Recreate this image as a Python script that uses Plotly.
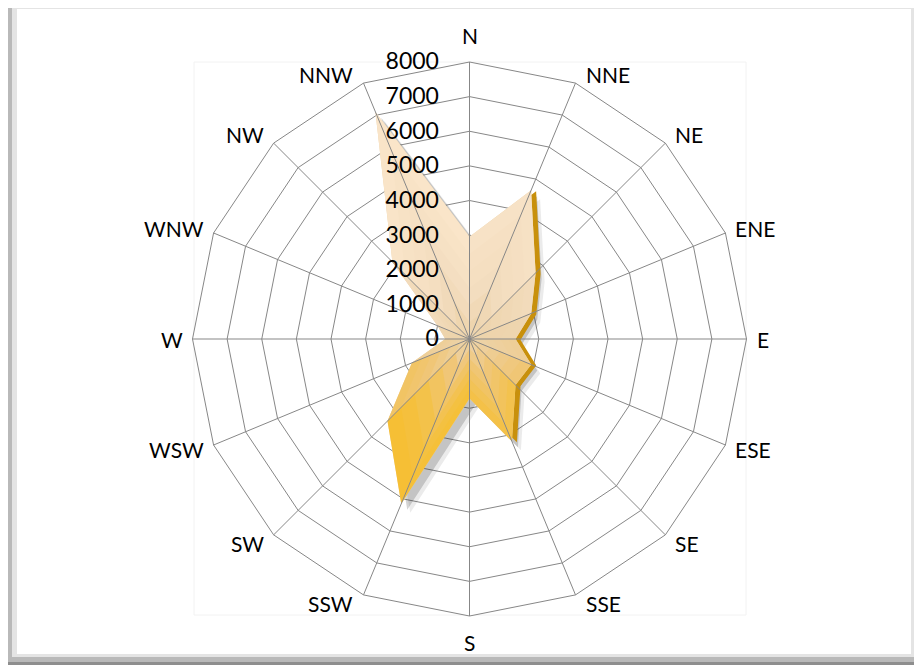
import numpy as np
import plotly.graph_objects as go

# wind directions and counts
directions = ['N', 'NNE', 'NE', 'ENE', 'E', 'ESE', 'SE', 'SSE',
              'S', 'SSW', 'SW', 'WSW', 'W', 'WNW', 'NW', 'NNW']
counts = [2950, 4650, 2700, 1930, 1330, 1930, 1880, 3200,
          1720, 5150, 3350, 1800, 700, 1000, 3150, 7100]
radial_ticks = [0, 1000, 2000, 3000, 4000, 5000, 6000, 7000, 8000]

W, H = 922, 668
OFF = 8  # page body margin shifts the figure
CX, CY, R = 469.5 - OFF, 339 - OFF, 277
GRID = '#878787'
FONT = 'Lato'


def dom(dx=0, dy=0):
    return dict(x=[(CX - R + dx) / W, (CX + R + dx) / W],
                y=[1 - (CY + R + dy) / H, 1 - (CY - R + dy) / H])


def hex_mix(stops, t):
    t = min(max(t, 0), 1)
    for (t0, c0), (t1, c1) in zip(stops[:-1], stops[1:]):
        if t <= t1:
            u = (t - t0) / (t1 - t0) if t1 > t0 else 0
            a = [int(c0[i:i + 2], 16) for i in (1, 3, 5)]
            b = [int(c1[i:i + 2], 16) for i in (1, 3, 5)]
            return 'rgb(%d,%d,%d)' % tuple(round(x + (y - x) * u) for x, y in zip(a, b))
    return stops[-1][1]


# vertical gradient like the Excel fill: golden at the bottom, cream on top
grad = [(0.0, '#F8BD1F'), (0.22, '#F4C143'), (0.34, '#F0C676'),
        (0.42, '#EDD3AA'), (0.55, '#F3DDBF'), (1.0, '#FFEBD1')]

ang = np.deg2rad(np.arange(len(directions)) * 360 / len(directions))
vals = np.array(counts, dtype=float)
ys = vals * np.cos(ang)
ymin, ymax = ys.min(), ys.max()

fig = go.Figure()

common_ang = dict(type='category', categoryorder='array', categoryarray=directions,
                  rotation=90, direction='clockwise')
closed_dirs = directions + directions[:1]
closed_vals = counts + counts[:1]
half = directions.index('S') + 1


def base_polar(**kw):
    p = dict(bgcolor='rgba(0,0,0,0)', gridshape='linear',
             radialaxis=dict(range=[0, 8000], tickvals=radial_ticks, showgrid=False,
                             showline=False, showticklabels=False, ticks=''),
             angularaxis=dict(common_ang, showgrid=False, showline=False,
                              showticklabels=False, ticks=''))
    for k, v in kw.items():
        if isinstance(v, dict) and k in p:
            p[k].update(v)
        else:
            p[k] = v
    return p


def helper(sp):
    return go.Scatterpolar(r=closed_vals, theta=closed_dirs, mode='lines',
                           line=dict(width=0, color='rgba(0,0,0,0)'),
                           hoverinfo='skip', showlegend=False, subplot=sp)


# 1: rings underneath everything
fig.add_trace(helper('polar'))

# 2-4: soft shadow copies and the golden bevel on the right-hand side
for sp, col in [('polar2', 'rgba(60,60,60,0.10)'), ('polar3', 'rgba(40,40,40,0.20)')]:
    fig.add_trace(go.Scatterpolar(r=closed_vals, theta=closed_dirs, mode='lines',
                                  fill='toself', fillcolor=col, line=dict(width=0),
                                  hoverinfo='skip', showlegend=False, subplot=sp))
fig.add_trace(helper('polar4'))
fig.add_trace(go.Scatterpolar(r=[0] + counts[:half] + [0],
                              theta=['N'] + directions[:half] + ['S'], mode='lines',
                              fill='toself', fillcolor='#C8900C', line=dict(width=0),
                              hoverinfo='skip', showlegend=False, subplot='polar4'))

# 5: the filled series, shaded per sector to mimic the vertical gradient
fig.add_trace(go.Scatterpolar(r=closed_vals, theta=closed_dirs, mode='lines',
                              fill='toself', fillcolor=hex_mix(grad, 0.42),
                              line=dict(width=0), name='Frequency',
                              showlegend=False, subplot='polar5'))
K = 6
n = len(directions)
for i in range(n):
    j = (i + 1) % n
    ymid = (ys[i] + ys[j]) / 2
    for k in range(K, 0, -1):
        f = k / K
        t = ((f - 0.5 / K) * ymid - ymin) / (ymax - ymin)
        fig.add_trace(go.Scatterpolar(
            r=[0, f * counts[i], f * counts[j], 0],
            theta=[directions[i], directions[i], directions[j], directions[j]],
            mode='lines', fill='toself', fillcolor=hex_mix(grad, t),
            line=dict(width=0), hoverinfo='skip', showlegend=False, subplot='polar5'))

# 6: spokes and radial labels on top
fig.add_trace(helper('polar6'))

label_font = dict(family=FONT, size=21, color='black')
layout = dict(
    polar=base_polar(domain=dom(), bgcolor='white',
                     radialaxis=dict(showgrid=True, gridcolor=GRID, gridwidth=1),
                     angularaxis=dict(showline=True, linecolor=GRID, linewidth=1)),
    polar2=base_polar(domain=dom(9, 9)),
    polar3=base_polar(domain=dom(6, 6)),
    polar4=base_polar(domain=dom(5, 1)),
    polar5=base_polar(domain=dom()),
    polar6=base_polar(domain=dom(),
                      radialaxis=dict(showticklabels=True, angle=90, tickangle=90,
                                      side='counterclockwise',
                                      tickfont=dict(label_font, size=23),
                                      ticks='outside', ticklen=22,
                                      tickcolor='rgba(0,0,0,0)'),
                      angularaxis=dict(showgrid=True, gridcolor=GRID, gridwidth=1)),
)
fig.update_layout(**layout)

# direction labels placed next to the outer ring vertices, Excel style
annotations = []
for d, a in zip(directions, ang):
    s, c = np.sin(a), np.cos(a)
    vx, vy = CX + R * s, CY - R * c
    if abs(s) < 0.1:
        x, y, xa = vx, vy - 26.5 * np.sign(c), 'center'
    else:
        x = vx + 8 * np.sign(s)
        y = vy - 9 * np.clip(c * 1.4, -1, 1)
        xa = 'left' if s > 0 else 'right'
    annotations.append(dict(text=d, x=x / W, y=1 - y / H, xref='paper', yref='paper',
                            xanchor=xa, yanchor='middle', showarrow=False,
                            font=label_font))


def px_rect(x0, y0, x1, y1, col):
    return dict(type='rect', xref='paper', yref='paper', layer='below',
                x0=(x0 - OFF) / W, x1=(x1 - OFF) / W,
                y0=1 - (y1 - OFF) / H, y1=1 - (y0 - OFF) / H,
                fillcolor=col, line=dict(width=0))


# beveled frame around the chart area
frame = [px_rect(8, 4, 921, 665, '#8E8E8E'),
         px_rect(8, 5, 918, 662, '#B9B9B9'),
         px_rect(12, 7, 914, 657, '#E4E4E4'),
         px_rect(17, 9, 911, 654, 'white'),
         dict(type='rect', xref='paper', yref='paper', layer='below',
              x0=(194 - OFF) / W, x1=(746 - OFF) / W,
              y0=1 - (615 - OFF) / H, y1=1 - (62 - OFF) / H,
              line=dict(color='#F2F2F2', width=1))]

fig.update_layout(width=W, height=H, margin=dict(l=0, r=0, t=0, b=0),
                  paper_bgcolor='white', plot_bgcolor='white',
                  showlegend=False, shapes=frame, annotations=annotations)

fig.write_html("out.html")
